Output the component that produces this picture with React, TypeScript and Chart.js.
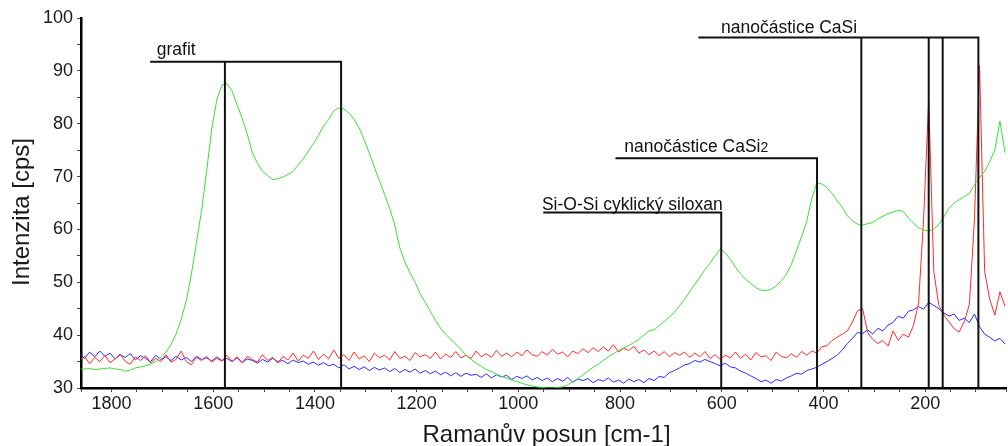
import React, { useEffect, useRef } from "react";
import { Chart, registerables } from "chart.js";

Chart.register(...registerables);

// Raman shift sampling grid [cm-1]: starts at 1863, 10 cm-1 steps, one entry per value below
const shiftStart = 1863;
const shiftStep = 10;

const greenIntensity = [
  33.6, 33.6, 33.7, 33.5, 33.6, 33.7, 33.8, 33.6, 33.5, 33.2,
  33.4, 33.8, 34.0, 34.2, 34.5, 35.0, 35.8, 36.8, 38.2, 40.2,
  43.0, 46.5, 51.5, 57.5, 63.5, 71.0, 79.0, 84.5, 87.3, 87.6,
  86.2, 83.5, 81.0, 78.0, 74.5, 72.5, 71.0, 70.2, 69.4, 69.6,
  69.9, 70.4, 71.0, 72.2, 73.3, 74.8, 76.2, 77.8, 79.6, 80.8,
  82.4, 83.0, 82.8, 82.0, 80.8, 79.2, 77.0, 74.4, 71.8, 69.2,
  66.6, 64.0, 60.8, 56.5, 53.8, 51.8, 50.0, 47.8, 46.2, 44.5,
  42.8, 41.3, 40.2, 39.2, 38.3, 37.3, 36.2, 35.4, 34.7, 34.1,
  33.5, 33.1, 32.6, 32.2, 31.9, 31.5, 31.2, 30.9, 30.6, 30.4,
  30.2, 30.1, 30.0, 30.0, 30.1, 30.2, 30.6, 31.2, 31.8, 32.5,
  33.2, 33.9, 34.5, 35.2, 35.9, 36.5, 37.1, 37.6, 38.0, 38.6,
  39.2, 40.0, 40.8, 41.0, 41.8, 42.6, 43.4, 44.3, 45.6, 46.8,
  48.2, 49.6, 51.0, 52.4, 53.6, 55.0, 56.3, 55.6, 54.3, 52.9,
  51.6, 50.6, 49.8, 49.0, 48.5, 48.4, 48.7, 49.3, 50.3, 51.5,
  53.4, 56.0, 58.6, 61.5, 65.8, 68.8, 68.6, 67.9, 66.8, 65.4,
  64.2, 62.6, 61.6, 61.0, 60.8, 61.1, 61.3, 62.0, 62.5, 63.0,
  63.3, 63.6, 63.4, 62.2, 61.2, 60.3, 59.9, 59.7, 60.0, 61.0,
  62.4, 64.0, 65.0, 65.6, 66.2, 66.8, 68.5, 69.8, 71.0, 72.8,
  75.0, 80.5, 74.5,
];

const redIntensity = [
  35.2, 36.0, 34.6, 35.8, 35.0, 36.2, 34.8, 35.5, 36.4, 35.0,
  34.5, 35.9, 35.2, 36.1, 34.7, 35.6, 35.0, 36.3, 34.9, 35.4,
  37.0, 35.0, 34.4, 35.8, 35.2, 36.0, 34.9, 35.6, 35.1, 36.2,
  35.0, 35.9, 34.8, 36.0, 35.4, 34.9, 36.3, 35.2, 35.8, 34.7,
  36.0, 35.3, 36.6, 35.1, 36.2, 35.6, 37.0, 35.4, 36.4, 35.5,
  37.2, 35.6, 36.3, 35.2, 36.8, 35.5, 36.1, 35.0, 36.6, 35.7,
  36.2, 35.3, 36.9, 35.6, 36.0, 35.2, 36.7, 35.9, 36.3, 35.6,
  36.8, 35.5, 36.4, 35.8, 36.9, 35.7, 36.2, 35.6, 37.0, 35.9,
  36.5, 35.8, 37.1, 36.0, 36.6, 35.9, 36.8, 36.1, 37.2, 36.3,
  36.0, 36.9, 36.2, 37.3, 36.4, 36.8, 35.9, 37.0, 36.5, 37.4,
  36.7, 37.6, 36.9, 37.8, 37.0, 38.2, 36.8, 37.5, 37.1, 37.9,
  36.6, 37.2, 36.3, 37.0, 36.1, 36.9, 35.9, 36.7, 36.2, 36.8,
  35.8, 36.6, 35.9, 36.9, 35.6, 36.3, 35.4, 36.2, 35.7, 36.8,
  35.6, 36.4, 35.3, 36.7, 35.9, 36.1, 35.2, 36.8, 36.0, 35.7,
  36.5, 35.8, 36.9, 36.2, 37.0, 36.6, 37.8, 38.0, 39.0, 39.6,
  40.2, 40.8, 42.5, 44.6, 45.0, 40.5, 39.2, 38.4, 39.0, 37.9,
  40.8, 39.0, 40.2, 39.6, 41.8, 46.0, 62.0, 84.5, 52.0, 45.6,
  43.8, 42.5, 41.2, 40.6, 42.6, 45.8, 62.0, 91.0, 52.0, 46.8,
  43.8, 48.2, 45.5,
];

const blueIntensity = [
  36.4, 35.6, 36.8, 35.9, 37.0, 36.0, 36.6, 35.5, 36.3, 35.8,
  36.5, 35.3, 36.1, 35.6, 35.0, 36.2, 35.4, 35.9, 35.2, 36.0,
  35.3, 35.8, 35.0, 36.0, 35.4, 35.7, 35.1, 35.9, 35.2, 35.6,
  35.0, 35.7, 34.8, 35.5, 35.2, 34.7, 35.4, 34.9, 35.6, 35.0,
  35.2, 34.6, 35.3, 34.8, 35.1, 34.5, 34.9, 34.3, 34.8, 34.2,
  34.5, 33.8, 34.4, 33.6, 34.1, 33.5, 34.0, 33.3, 33.9, 33.4,
  33.8, 33.1, 33.7, 32.9, 33.5, 33.0, 33.6, 32.8, 33.3, 32.7,
  33.2, 32.5, 33.0, 32.3, 32.9, 32.2, 32.8, 32.4, 32.6, 32.0,
  32.7, 31.9, 32.5, 32.1, 32.4, 31.6, 32.2, 31.8, 32.3, 31.5,
  32.0, 31.4, 31.9, 31.2, 31.8, 31.3, 32.0, 31.1, 31.7, 31.4,
  31.8, 31.0, 31.6, 31.3, 31.9, 31.1, 31.5, 30.9, 31.7, 31.2,
  31.6, 31.0, 31.8, 31.4, 32.2, 32.0, 32.9, 33.3, 33.8, 34.4,
  34.6, 35.2, 34.9, 35.4, 35.0, 34.6, 34.2, 34.7, 34.0, 33.8,
  33.2, 32.8, 32.3, 31.8, 31.2, 31.5, 30.9, 31.6, 31.3, 31.9,
  32.3, 32.8, 32.6, 33.3, 33.6, 33.9, 34.5, 35.0, 35.6, 36.2,
  37.2, 38.4, 39.4, 40.5, 40.3, 41.0, 40.2, 41.3, 40.8, 41.9,
  42.4, 43.6, 43.2, 44.5, 44.8, 45.4, 44.9, 46.2, 45.6, 45.0,
  44.2, 43.6, 44.0, 42.8, 43.2, 42.4, 44.0, 41.6, 40.2, 39.6,
  38.9, 39.4, 38.3,
];

const ramanShift = greenIntensity.map((_, i) => shiftStart - shiftStep * i);

const xTickLabels = [1800, 1600, 1400, 1200, 1000, 800, 600, 400, 200];
const yTickLabels = [30, 40, 50, 60, 70, 80, 90, 100];

// Peak assignment annotations (data coordinates)
const annLabels = ["grafit", "Si-O-Si cyklický siloxan", "nanočástice CaSi", "nanočástice CaSi"];
const annSubscripts = ["", "", "2", ""];
const annBarLevel = [91.7, 63.2, 73.45, 96.3];
const annBarStart = [1724, 951, 809, 646];
const annPeaks = [[1577, 1348.5], [601], [412.6], [325.5, 193, 165.5, 95.3]];
const annTextShift = [1711, 953.6, 791.7, 601.5];
const annTextLevel = [94.1, 64.9, 75.8, 98.35];

const xTitle = "Ramanův posun [cm-1]";
const yTitle = "Intenzita [cps]";

const FONT = "'Liberation Sans', Arial, sans-serif";

const toPoints = (vals: number[]) => vals.map((v, i) => ({ x: ramanShift[i], y: v }));

const annotationPlugin = {
  id: "peakAnnotations",
  afterDatasetsDraw(chart: any) {
    const { ctx, scales } = chart;
    const x = scales.x;
    const y = scales.y;
    ctx.save();
    ctx.strokeStyle = "#111";
    ctx.lineWidth = 2;
    ctx.fillStyle = "#111";
    annLabels.forEach((label, i) => {
      const yb = y.getPixelForValue(annBarLevel[i]);
      const x0 = x.getPixelForValue(annBarStart[i]);
      const peaks = annPeaks[i];
      const xEnd = x.getPixelForValue(Math.min(...peaks));
      ctx.beginPath();
      ctx.moveTo(x0, yb);
      ctx.lineTo(xEnd + 1, yb);
      peaks.forEach((p) => {
        const px = x.getPixelForValue(p);
        ctx.moveTo(px, yb);
        ctx.lineTo(px, y.bottom);
      });
      ctx.stroke();
      const tx = x.getPixelForValue(annTextShift[i]);
      const ty = y.getPixelForValue(annTextLevel[i]);
      ctx.font = `17.5px ${FONT}`;
      ctx.textAlign = "left";
      ctx.textBaseline = "alphabetic";
      const base = ty + 6;
      ctx.fillText(label, tx, base);
      if (annSubscripts[i]) {
        const w = ctx.measureText(label).width;
        ctx.font = `14px ${FONT}`;
        ctx.fillText(annSubscripts[i], tx + w, base);
      }
    });
    ctx.restore();
  },
  afterDraw(chart: any) {
    const { ctx, chartArea } = chart;
    ctx.save();
    ctx.fillStyle = "#1a1a1a";
    ctx.font = `24px ${FONT}`;
    ctx.textAlign = "center";
    ctx.textBaseline = "alphabetic";
    ctx.fillText(xTitle, (chartArea.left + chartArea.right) / 2 + 3, 442);
    ctx.translate(29, 212);
    ctx.rotate(-Math.PI / 2);
    ctx.fillText(yTitle, 0, 0);
    ctx.restore();
  },
};

export default function App() {
  const canvasRef = useRef<HTMLCanvasElement | null>(null);

  useEffect(() => {
    const canvas = canvasRef.current;
    if (!canvas) return;
    const chart = new Chart(canvas, {
      type: "line",
      data: {
        datasets: [
          {
            label: "green",
            data: toPoints(greenIntensity),
            borderColor: "#38e038",
            borderWidth: 1,
            pointRadius: 0,
            tension: 0,
          },
          {
            label: "red",
            data: toPoints(redIntensity),
            borderColor: "#ff2a2a",
            borderWidth: 1,
            pointRadius: 0,
            tension: 0,
          },
          {
            label: "blue",
            data: toPoints(blueIntensity),
            borderColor: "#2a2aff",
            borderWidth: 1,
            pointRadius: 0,
            tension: 0,
          },
        ],
      },
      options: {
        responsive: false,
        animation: false,
        layout: { padding: { top: 18, right: 2, left: 0, bottom: 0 } },
        plugins: {
          legend: { display: false },
          tooltip: { enabled: false },
        },
        scales: {
          x: {
            type: "linear",
            reverse: true,
            min: 41,
            max: 1860,
            afterFit: (scale: any) => {
              scale.height = 58;
            },
            border: { display: true, color: "#000", width: 2.5 },
            grid: {
              drawOnChartArea: false,
              drawTicks: true,
              tickLength: 4,
              color: "#444",
            },
            ticks: {
              stepSize: 50,
              autoSkip: false,
              maxRotation: 0,
              padding: 1,
              color: "#1a1a1a",
              font: { family: FONT, size: 18 },
              callback: (v: any) => (xTickLabels.includes(Number(v)) ? String(v) : ""),
            },
          },
          y: {
            min: 30,
            max: 100,
            afterFit: (scale: any) => {
              scale.width = 81;
            },
            border: { display: true, color: "#000", width: 2.5 },
            grid: {
              drawOnChartArea: false,
              drawTicks: true,
              tickLength: 4,
              color: "#444",
            },
            ticks: {
              stepSize: 5,
              autoSkip: false,
              padding: 4,
              color: "#1a1a1a",
              font: { family: FONT, size: 18 },
              callback: (v: any) => (yTickLabels.includes(Number(v)) ? String(v) : ""),
            },
          },
        },
      },
      plugins: [annotationPlugin],
    });
    return () => chart.destroy();
  }, []);

  return (
    <div style={{ position: "absolute", left: 0, top: 0, width: 1008, height: 446, background: "#fff" }}>
      <canvas ref={canvasRef} width={1008} height={446} />
    </div>
  );
}
